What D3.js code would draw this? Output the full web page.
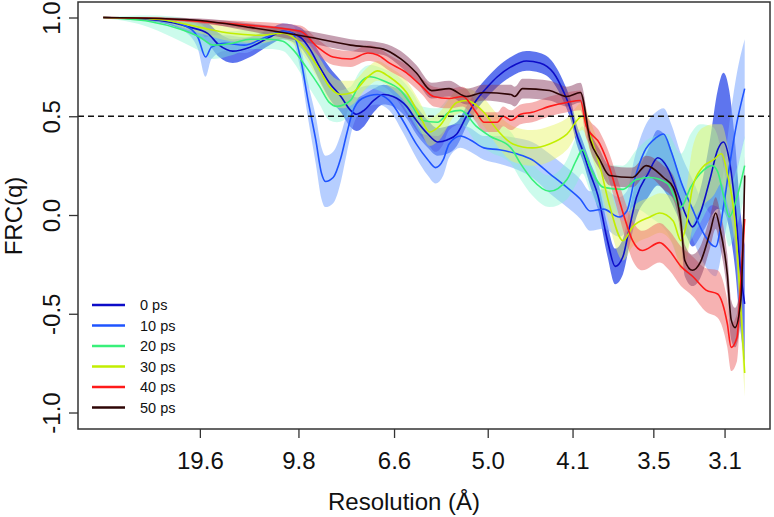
<!DOCTYPE html>
<html>
<head>
<meta charset="utf-8">
<script src="https://cdn.jsdelivr.net/npm/d3@7"></script>
<style>
body { margin: 0; background: #fff; }
text { font-family: "Liberation Sans", Arial, Helvetica, sans-serif; }
</style>
</head>
<body>
<div id="chart"></div>
<script>
// series names
var series = ["0 ps", "10 ps", "20 ps", "30 ps", "40 ps", "50 ps"];
// x ticks, written as resolution in Angstrom
var resTicks = ["19.6", "9.8", "6.6", "5.0", "4.1", "3.5", "3.1"];
var yTicks = [-1.0, -0.5, 0.0, 0.5, 1.0];

// spatial frequency q (1/A), mean FRC and its spread, one set per series
var q0 = [0.001, 0.030, 0.046, 0.055, 0.061, 0.068, 0.077, 0.087, 0.094, 0.103, 0.108, 0.113, 0.118, 0.124, 0.129, 0.132, 0.136, 0.141, 0.146, 0.151, 0.158, 0.163, 0.169, 0.174, 0.179, 0.184, 0.189, 0.194, 0.200, 0.205, 0.212, 0.220, 0.227, 0.234, 0.239, 0.243, 0.246, 0.249, 0.253, 0.257, 0.262, 0.266, 0.270, 0.273, 0.277, 0.283, 0.288, 0.293, 0.298, 0.303, 0.306, 0.310, 0.315, 0.319, 0.322, 0.325, 0.328, 0.331, 0.333];
var frc0 = [1.00, 0.985, 0.95, 0.92, 0.86, 0.83, 0.85, 0.90, 0.93, 0.90, 0.84, 0.75, 0.67, 0.60, 0.53, 0.51, 0.53, 0.58, 0.61, 0.60, 0.55, 0.48, 0.41, 0.37, 0.38, 0.41, 0.50, 0.58, 0.65, 0.70, 0.75, 0.78, 0.77, 0.72, 0.63, 0.53, 0.41, 0.33, 0.21, 0.10, -0.13, -0.26, -0.21, -0.08, 0.09, 0.21, 0.29, 0.24, 0.12, -0.01, -0.06, 0.01, 0.18, 0.33, 0.37, 0.28, 0.05, -0.30, -0.45];
var sd0 = [0.003, 0.01, 0.03, 0.05, 0.06, 0.06, 0.05, 0.04, 0.04, 0.05, 0.06, 0.07, 0.08, 0.08, 0.085, 0.085, 0.08, 0.06, 0.05, 0.05, 0.06, 0.07, 0.07, 0.07, 0.07, 0.06, 0.05, 0.05, 0.05, 0.05, 0.05, 0.05, 0.05, 0.05, 0.05, 0.05, 0.05, 0.05, 0.06, 0.07, 0.08, 0.09, 0.09, 0.09, 0.1, 0.12, 0.14, 0.14, 0.12, 0.1, 0.1, 0.12, 0.2, 0.3, 0.35, 0.35, 0.32, 0.3, 0.3];

var q1 = [0.001, 0.030, 0.043, 0.050, 0.054, 0.057, 0.064, 0.074, 0.085, 0.094, 0.099, 0.103, 0.107, 0.111, 0.114, 0.116, 0.120, 0.124, 0.127, 0.130, 0.135, 0.143, 0.149, 0.156, 0.163, 0.169, 0.173, 0.177, 0.180, 0.186, 0.191, 0.198, 0.206, 0.215, 0.223, 0.232, 0.241, 0.248, 0.253, 0.260, 0.268, 0.272, 0.276, 0.281, 0.287, 0.291, 0.295, 0.300, 0.306, 0.311, 0.318, 0.322, 0.325, 0.329, 0.333];
var frc1 = [1.00, 0.99, 0.96, 0.90, 0.80, 0.85, 0.87, 0.86, 0.90, 0.93, 0.92, 0.80, 0.58, 0.38, 0.21, 0.17, 0.19, 0.29, 0.41, 0.52, 0.59, 0.61, 0.58, 0.48, 0.36, 0.28, 0.24, 0.28, 0.36, 0.40, 0.38, 0.34, 0.33, 0.31, 0.28, 0.21, 0.14, 0.08, 0.02, 0.03, -0.01, 0.02, 0.18, 0.32, 0.39, 0.41, 0.32, 0.17, 0.03, -0.08, -0.16, 0.04, 0.24, 0.47, 0.64];
var sd1 = [0.003, 0.01, 0.03, 0.06, 0.1, 0.06, 0.04, 0.04, 0.03, 0.03, 0.04, 0.06, 0.09, 0.12, 0.13, 0.13, 0.13, 0.12, 0.1, 0.08, 0.06, 0.05, 0.05, 0.06, 0.07, 0.08, 0.08, 0.08, 0.07, 0.06, 0.06, 0.06, 0.07, 0.08, 0.09, 0.1, 0.1, 0.1, 0.1, 0.1, 0.1, 0.1, 0.11, 0.12, 0.13, 0.13, 0.14, 0.14, 0.15, 0.15, 0.15, 0.18, 0.22, 0.25, 0.25];

var q2 = [0.001, 0.025, 0.041, 0.051, 0.058, 0.068, 0.077, 0.087, 0.094, 0.099, 0.106, 0.113, 0.118, 0.122, 0.129, 0.134, 0.139, 0.146, 0.155, 0.161, 0.166, 0.174, 0.180, 0.186, 0.194, 0.201, 0.212, 0.217, 0.223, 0.232, 0.241, 0.246, 0.249, 0.253, 0.260, 0.270, 0.277, 0.284, 0.293, 0.300, 0.305, 0.310, 0.316, 0.319, 0.322, 0.325, 0.329, 0.333];
var frc2 = [1.00, 0.98, 0.94, 0.90, 0.86, 0.87, 0.89, 0.89, 0.88, 0.84, 0.75, 0.65, 0.57, 0.55, 0.58, 0.67, 0.70, 0.68, 0.63, 0.55, 0.48, 0.47, 0.52, 0.53, 0.45, 0.40, 0.34, 0.26, 0.18, 0.12, 0.18, 0.28, 0.33, 0.24, 0.14, 0.13, 0.18, 0.19, 0.16, 0.04, 0.14, 0.21, 0.25, 0.22, 0.10, -0.01, 0.09, 0.25];
var sd2 = [0.003, 0.03, 0.06, 0.07, 0.07, 0.06, 0.05, 0.05, 0.05, 0.06, 0.08, 0.09, 0.09, 0.08, 0.07, 0.06, 0.06, 0.06, 0.06, 0.07, 0.07, 0.07, 0.07, 0.07, 0.08, 0.08, 0.08, 0.08, 0.08, 0.08, 0.1, 0.12, 0.12, 0.12, 0.12, 0.12, 0.15, 0.2, 0.25, 0.27, 0.27, 0.25, 0.2, 0.18, 0.15, 0.15, 0.15, 0.15];

var q3 = [0.001, 0.030, 0.051, 0.067, 0.082, 0.094, 0.103, 0.112, 0.118, 0.124, 0.130, 0.138, 0.143, 0.149, 0.158, 0.165, 0.170, 0.175, 0.184, 0.189, 0.198, 0.205, 0.213, 0.223, 0.232, 0.241, 0.249, 0.253, 0.258, 0.263, 0.270, 0.275, 0.284, 0.289, 0.296, 0.300, 0.303, 0.306, 0.311, 0.317, 0.321, 0.324, 0.328, 0.331, 0.333];
var frc3 = [1.00, 0.99, 0.95, 0.92, 0.91, 0.92, 0.87, 0.75, 0.65, 0.61, 0.62, 0.70, 0.73, 0.70, 0.62, 0.50, 0.42, 0.45, 0.57, 0.58, 0.52, 0.43, 0.36, 0.34, 0.36, 0.41, 0.50, 0.40, 0.25, 0.05, -0.13, -0.06, -0.01, 0.01, -0.03, -0.13, -0.04, 0.14, 0.24, 0.28, 0.31, 0.21, -0.04, -0.47, -0.80];
var sd3 = [0.003, 0.01, 0.03, 0.04, 0.04, 0.03, 0.04, 0.06, 0.07, 0.07, 0.06, 0.05, 0.05, 0.05, 0.06, 0.07, 0.07, 0.07, 0.06, 0.06, 0.07, 0.08, 0.09, 0.09, 0.09, 0.08, 0.07, 0.08, 0.09, 0.1, 0.1, 0.1, 0.1, 0.1, 0.12, 0.15, 0.18, 0.2, 0.2, 0.18, 0.15, 0.15, 0.12, 0.12, 0.12];

var q4 = [0.001, 0.030, 0.051, 0.077, 0.103, 0.112, 0.120, 0.129, 0.138, 0.143, 0.149, 0.158, 0.166, 0.172, 0.180, 0.187, 0.194, 0.198, 0.205, 0.208, 0.212, 0.217, 0.223, 0.232, 0.241, 0.248, 0.251, 0.258, 0.263, 0.267, 0.271, 0.275, 0.280, 0.289, 0.294, 0.300, 0.306, 0.313, 0.319, 0.324, 0.326, 0.329, 0.331, 0.333];
var frc4 = [1.00, 0.995, 0.98, 0.96, 0.93, 0.85, 0.80, 0.79, 0.82, 0.81, 0.77, 0.72, 0.65, 0.60, 0.59, 0.60, 0.52, 0.47, 0.47, 0.50, 0.48, 0.51, 0.52, 0.55, 0.57, 0.58, 0.45, 0.36, 0.24, 0.11, -0.02, -0.13, -0.18, -0.14, -0.18, -0.26, -0.31, -0.38, -0.40, -0.55, -0.67, -0.62, -0.33, -0.02];
var sd4 = [0.003, 0.005, 0.01, 0.02, 0.03, 0.04, 0.04, 0.04, 0.04, 0.04, 0.04, 0.04, 0.04, 0.05, 0.05, 0.05, 0.05, 0.05, 0.05, 0.05, 0.05, 0.05, 0.05, 0.05, 0.05, 0.05, 0.06, 0.06, 0.07, 0.08, 0.09, 0.1, 0.1, 0.1, 0.1, 0.1, 0.1, 0.11, 0.12, 0.12, 0.12, 0.12, 0.12, 0.12];

var q5 = [0.001, 0.030, 0.051, 0.077, 0.108, 0.129, 0.146, 0.155, 0.163, 0.171, 0.180, 0.189, 0.198, 0.212, 0.214, 0.218, 0.232, 0.241, 0.248, 0.253, 0.258, 0.263, 0.275, 0.282, 0.291, 0.296, 0.300, 0.302, 0.306, 0.310, 0.315, 0.318, 0.320, 0.324, 0.326, 0.328, 0.331, 0.333];
var frc5 = [1.00, 0.995, 0.985, 0.95, 0.90, 0.86, 0.84, 0.79, 0.72, 0.63, 0.64, 0.60, 0.62, 0.61, 0.60, 0.64, 0.63, 0.60, 0.62, 0.38, 0.28, 0.20, 0.19, 0.25, 0.19, 0.14, -0.04, -0.23, -0.28, -0.24, -0.09, 0.01, -0.06, -0.30, -0.53, -0.57, -0.43, 0.20];
var sd5 = [0.003, 0.005, 0.01, 0.02, 0.03, 0.03, 0.03, 0.04, 0.04, 0.04, 0.04, 0.04, 0.04, 0.05, 0.05, 0.05, 0.05, 0.05, 0.05, 0.05, 0.05, 0.05, 0.05, 0.05, 0.06, 0.06, 0.07, 0.08, 0.08, 0.08, 0.08, 0.08, 0.09, 0.1, 0.1, 0.1, 0.1, 0.1];

var lineColors = ["#0c0cc8", "#1f54ff", "#38f07a", "#c2ee00", "#ff1a1a", "#2e0505"];
var bandColors = ["#2040e8", "#7aa6ff", "#80f5d0", "#e6f560", "#ee6666", "#8c4064"];
var bandAlpha = [0.72, 0.55, 0.4, 0.45, 0.5, 0.5];

// define svg dimensions and margins
var svgWidth = 774;
var svgHeight = 517;
var margin = { top: 2, right: 4, bottom: 88, left: 78 };
var width = svgWidth - margin.left - margin.right;
var height = svgHeight - margin.top - margin.bottom;

var svg = d3.select("#chart")
  .append("svg")
  .attr("width", svgWidth)
  .attr("height", svgHeight);

var chartGroup = svg.append("g")
  .attr("transform", `translate(${margin.left}, ${margin.top})`);

var x = d3.scaleLinear().domain([-0.01206, 0.3461]).range([0, width]);
var y = d3.scaleLinear().domain([-1.0835, 1.0785]).range([height, 0]);

// build one table per series
var qs = [q0, q1, q2, q3, q4, q5];
var ms = [frc0, frc1, frc2, frc3, frc4, frc5];
var sds = [sd0, sd1, sd2, sd3, sd4, sd5];
var data = series.map(function (name, i) {
  return qs[i].map(function (q, j) {
    return { q: q, m: ms[i][j], s: sds[i][j] };
  });
});

chartGroup.append("clipPath").attr("id", "clip")
  .append("rect").attr("width", width).attr("height", height);

var plot = chartGroup.append("g").attr("clip-path", "url(#clip)");

var band = d3.area()
  .curve(d3.curveMonotoneX)
  .x(function (d) { return x(d.q); })
  .y0(function (d) { return y(d.m - d.s); })
  .y1(function (d) { return y(d.m + d.s); });

var line = d3.line()
  .curve(d3.curveMonotoneX)
  .x(function (d) { return x(d.q); })
  .y(function (d) { return y(d.m); });

data.forEach(function (d, i) {
  plot.append("path")
    .attr("d", band(d))
    .attr("fill", bandColors[i])
    .attr("fill-opacity", bandAlpha[i]);
});

data.forEach(function (d, i) {
  plot.append("path")
    .attr("d", line(d))
    .attr("fill", "none")
    .attr("stroke", lineColors[i])
    .attr("stroke-width", 1.6);
});

// FRC = 0.5 threshold
chartGroup.append("line")
  .attr("x1", 0).attr("x2", width)
  .attr("y1", y(0.5)).attr("y2", y(0.5))
  .attr("stroke", "#111")
  .attr("stroke-width", 1.5)
  .attr("stroke-dasharray", "6,4");

// axes
var yAxis = d3.axisLeft(y)
  .tickValues(yTicks)
  .tickSize(9)
  .tickFormat(function (d) { return d.toFixed(1); });

var yg = chartGroup.append("g").call(yAxis);
yg.select(".domain").remove();
yg.selectAll(".tick line").attr("stroke", "#333").attr("stroke-width", 1.3);
yg.selectAll(".tick text")
  .attr("x", null).attr("dy", null)
  .attr("transform", "translate(-18,0) rotate(-90)")
  .attr("text-anchor", "middle")
  .attr("fill", "#111")
  .style("font-size", "24px");

var xAxis = d3.axisBottom(x)
  .tickValues(resTicks.map(function (r) { return 1 / +r; }))
  .tickSize(9)
  .tickFormat(function (d, i) { return resTicks[i]; });

var xg = chartGroup.append("g")
  .attr("transform", `translate(0, ${height})`)
  .call(xAxis);
xg.select(".domain").remove();
xg.selectAll(".tick line").attr("stroke", "#333").attr("stroke-width", 1.3);
xg.selectAll(".tick text")
  .attr("y", 40).attr("dy", null)
  .attr("fill", "#111")
  .style("font-size", "24px");

// plot box
chartGroup.append("rect")
  .attr("width", width).attr("height", height)
  .attr("fill", "none")
  .attr("stroke", "#333")
  .attr("stroke-width", 1.5);

// axis titles
svg.append("text")
  .attr("x", 404).attr("y", 510)
  .attr("text-anchor", "middle")
  .style("font-size", "24px")
  .attr("fill", "#111")
  .text("Resolution (Å)");

svg.append("text")
  .attr("transform", "translate(22, 216) rotate(-90)")
  .attr("text-anchor", "middle")
  .style("font-size", "24px")
  .attr("fill", "#111")
  .text("FRC(q)");

// legend
var legend = svg.append("g");
series.forEach(function (name, i) {
  var ly = 305 + i * 20.5;
  legend.append("line")
    .attr("x1", 92).attr("x2", 125)
    .attr("y1", ly).attr("y2", ly)
    .attr("stroke", lineColors[i])
    .attr("stroke-width", 2.5);
  legend.append("text")
    .attr("x", 140).attr("y", ly + 5)
    .style("font-size", "14.5px")
    .attr("fill", "#111")
    .text(name);
});
</script>
</body>
</html>
